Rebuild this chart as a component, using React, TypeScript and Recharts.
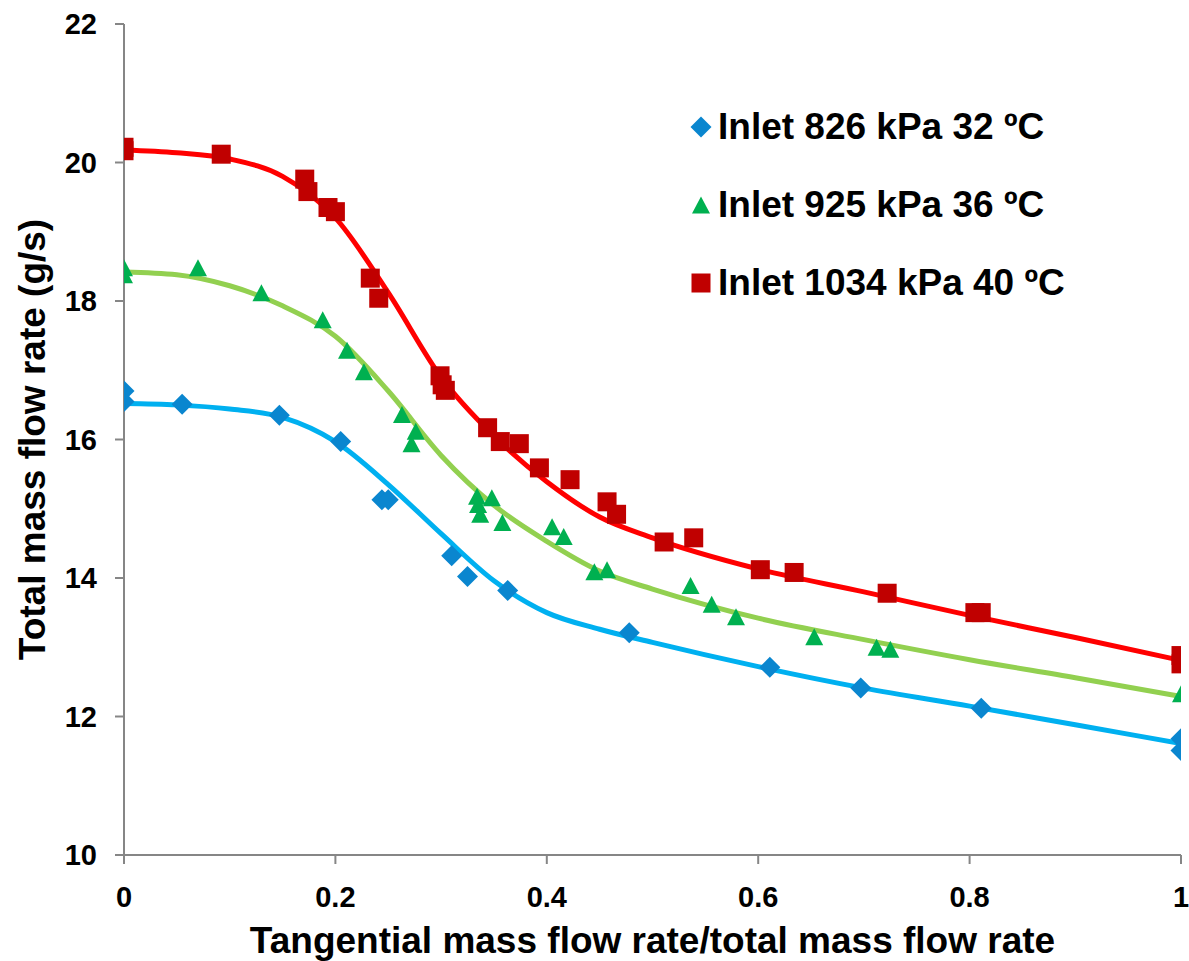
import { ComposedChart, Label, Line, Scatter, XAxis, YAxis } from 'recharts';

const ratio826 = [0, 0, 0.055, 0.147, 0.205, 0.244, 0.25, 0.31, 0.325, 0.363, 0.478, 0.611, 0.697, 0.811, 1.0, 1.0];
const flow826 = [16.7, 16.55, 16.51, 16.35, 15.97, 15.13, 15.13, 14.32, 14.02, 13.82, 13.21, 12.71, 12.41, 12.12, 11.68, 11.51];

const ratio925 = [0, 0, 0.07, 0.13, 0.188, 0.211, 0.227, 0.263, 0.276, 0.272, 0.334, 0.348, 0.335, 0.337, 0.358, 0.405, 0.416, 0.445, 0.457, 0.536, 0.556, 0.579, 0.653, 0.712, 0.725, 1.0];
const flow925 = [18.48, 18.38, 18.48, 18.12, 17.73, 17.29, 16.98, 16.36, 16.12, 15.94, 15.18, 15.16, 15.06, 14.92, 14.8, 14.74, 14.6, 14.09, 14.12, 13.89, 13.62, 13.44, 13.15, 13.0, 12.97, 12.33];

const ratio1034 = [0, 0, 0.092, 0.171, 0.174, 0.193, 0.2, 0.233, 0.241, 0.299, 0.301, 0.304, 0.344, 0.356, 0.374, 0.393, 0.422, 0.457, 0.466, 0.511, 0.539, 0.602, 0.634, 0.722, 0.805, 0.811, 1.0, 1.0];
const flow1034 = [20.22, 20.17, 20.12, 19.76, 19.58, 19.35, 19.29, 18.33, 18.04, 16.92, 16.79, 16.71, 16.17, 15.97, 15.94, 15.59, 15.42, 15.1, 14.92, 14.52, 14.58, 14.12, 14.08, 13.78, 13.5, 13.5, 12.88, 12.76];

// fitted curves
const fitRatio = [0, 0.05, 0.1, 0.15, 0.2, 0.25, 0.3, 0.35, 0.4, 0.45, 0.5, 0.6, 0.7, 0.8, 0.9, 1];
const fit826 = [16.52, 16.5, 16.44, 16.32, 15.97, 15.35, 14.64, 13.96, 13.5, 13.26, 13.07, 12.72, 12.41, 12.15, 11.88, 11.61];
const fit925 = [18.42, 18.38, 18.22, 17.93, 17.49, 16.7, 15.77, 15.05, 14.53, 14.1, 13.84, 13.42, 13.11, 12.82, 12.56, 12.29];
const fit1034 = [20.18, 20.14, 20.05, 19.8, 19.2, 18.12, 16.9, 16.05, 15.39, 14.88, 14.58, 14.13, 13.8, 13.46, 13.14, 12.81];

const xTicks = [0, 0.2, 0.4, 0.6, 0.8, 1];
const yTicks = [10, 12, 14, 16, 18, 20, 22];

const seriesNames = ['Inlet 826 kPa 32 ºC', 'Inlet 925 kPa 36 ºC', 'Inlet 1034 kPa 40 ºC'];

const FONT = '"Liberation Sans", Arial, sans-serif';
const AXIS = '#868686';
const BLUE = '#0A86CF';
const GREEN = '#00B050';
const RED = '#C00000';

const zip = (xs: number[], ys: number[]) => xs.map((x, i) => ({ x, y: ys[i] }));

function Diamond(p: any) {
  const { cx, cy } = p;
  const r = 10.5;
  return <polygon points={`${cx},${cy - r} ${cx + r},${cy} ${cx},${cy + r} ${cx - r},${cy}`} fill={BLUE} />;
}

function Triangle(p: any) {
  const { cx, cy } = p;
  const w = 9;
  const h = 8.5;
  return <polygon points={`${cx},${cy - h} ${cx + w},${cy + h} ${cx - w},${cy + h}`} fill={GREEN} />;
}

function Square(p: any) {
  const { cx, cy } = p;
  const s = 9.5;
  return <rect x={cx - s} y={cy - s} width={s * 2} height={s * 2} fill={RED} />;
}

const tickStyle = { fontSize: 29, fontWeight: 700, fill: '#000', fontFamily: FONT };

function LegendBox() {
  const marks = [
    <svg width={22} height={22} key="d"><polygon points="11,0.5 21.5,11 11,21.5 0.5,11" fill={BLUE} /></svg>,
    <svg width={22} height={22} key="t"><polygon points="11,2.5 20,19.5 2,19.5" fill={GREEN} /></svg>,
    <svg width={22} height={22} key="s"><rect x={1.5} y={1.5} width={19} height={19} fill={RED} /></svg>,
  ];
  return (
    <div
      style={{
        position: 'absolute',
        left: 690,
        top: 88,
        fontFamily: FONT,
        fontWeight: 700,
        fontSize: 37,
        color: '#000',
      }}
    >
      {seriesNames.map((n, i) => (
        <div key={n} style={{ height: 78, display: 'flex', alignItems: 'center', whiteSpace: 'nowrap' }}>
          {marks[i]}
          <span style={{ marginLeft: 6 }}>{n}</span>
        </div>
      ))}
    </div>
  );
}

export default function App() {
  return (
    <div style={{ position: 'absolute', left: 0, top: 0, width: 1189, height: 961, background: '#fff' }}>
      <ComposedChart width={1189} height={961} margin={{ top: 24, right: 8, bottom: 0, left: 0 }}>
        <XAxis
          type="number"
          dataKey="x"
          domain={[0, 1]}
          ticks={xTicks}
          height={106}
          allowDataOverflow
          axisLine={{ stroke: AXIS, strokeWidth: 2 }}
          tickLine={{ stroke: AXIS, strokeWidth: 2 }}
          tickSize={9}
          tickMargin={22}
          tick={tickStyle}
        >
          <Label
            content={({ viewBox }: any) => (
              <text
                x={viewBox.x + viewBox.width / 2}
                y={viewBox.y + 98}
                textAnchor="middle"
                fontFamily={FONT}
                fontWeight={700}
                fontSize={37}
                fill="#000"
              >
                Tangential mass flow rate/total mass flow rate
              </text>
            )}
          />
        </XAxis>
        <YAxis
          type="number"
          dataKey="y"
          domain={[10, 22]}
          ticks={yTicks}
          width={124}
          allowDataOverflow
          axisLine={{ stroke: AXIS, strokeWidth: 2 }}
          tickLine={{ stroke: AXIS, strokeWidth: 2 }}
          tickSize={9}
          tickMargin={18}
          tick={tickStyle}
        >
          <Label
            content={({ viewBox }: any) => {
              const cx = 32;
              const cy = viewBox.y + viewBox.height / 2;
              return (
                <text
                  x={cx}
                  y={cy}
                  transform={`rotate(-90, ${cx}, ${cy})`}
                  textAnchor="middle"
                  dominantBaseline="central"
                  fontFamily={FONT}
                  fontWeight={700}
                  fontSize={37}
                  fill="#000"
                >
                  Total mass flow rate (g/s)
                </text>
              );
            }}
          />
        </YAxis>
        <Line data={zip(fitRatio, fit826)} dataKey="y" type="monotone" stroke="#00B0F0" strokeWidth={5} dot={false} isAnimationActive={false} legendType="none" />
        <Line data={zip(fitRatio, fit925)} dataKey="y" type="monotone" stroke="#92D050" strokeWidth={5} dot={false} isAnimationActive={false} legendType="none" />
        <Line data={zip(fitRatio, fit1034)} dataKey="y" type="monotone" stroke="#FF0000" strokeWidth={5} dot={false} isAnimationActive={false} legendType="none" />
        <Scatter name={seriesNames[0]} data={zip(ratio826, flow826)} dataKey="y" shape={Diamond} isAnimationActive={false} />
        <Scatter name={seriesNames[1]} data={zip(ratio925, flow925)} dataKey="y" shape={Triangle} isAnimationActive={false} />
        <Scatter name={seriesNames[2]} data={zip(ratio1034, flow1034)} dataKey="y" shape={Square} isAnimationActive={false} />
      </ComposedChart>
      <LegendBox />
    </div>
  );
}
